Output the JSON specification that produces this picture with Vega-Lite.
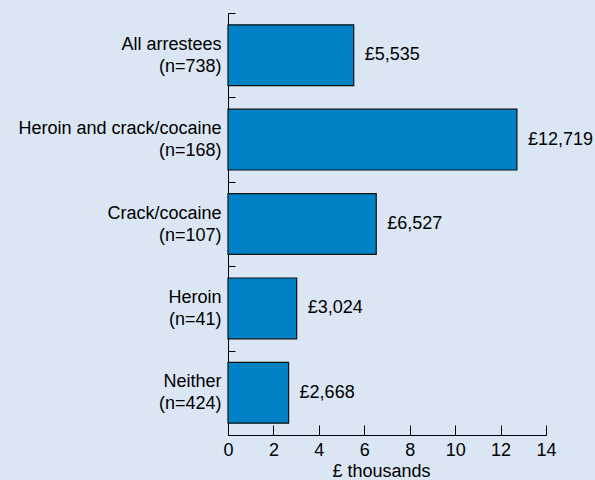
{
  "$schema": "https://vega.github.io/schema/vega-lite/v6.json",
  "autosize": "none",
  "padding": {"left": 228, "top": 13, "right": 49, "bottom": 45},
  "width": 318,
  "height": 422,
  "background": "#dbe6f4",
  "data": {
    "values": [
      {"group": "All arrestees|(n=738)", "amount": 5.535, "label": "£5,535"},
      {"group": "Heroin and crack/cocaine|(n=168)", "amount": 12.719, "label": "£12,719"},
      {"group": "Crack/cocaine|(n=107)", "amount": 6.527, "label": "£6,527"},
      {"group": "Heroin|(n=41)", "amount": 3.024, "label": "£3,024"},
      {"group": "Neither|(n=424)", "amount": 2.668, "label": "£2,668"}
    ]
  },
  "encoding": {
    "y": {
      "field": "group",
      "type": "nominal",
      "sort": null,
      "scale": {"paddingInner": 0, "paddingOuter": 0},
      "axis": {
        "title": null,
        "domainColor": "#000000",
        "domainWidth": 1,
        "tickColor": "#000000",
        "tickSize": -7,
        "tickBand": "extent",
        "labelPadding": 14,
        "labelLimit": 0,
        "labelOffset": -11,
        "labelExpr": "split(datum.label, '|')",
        "labelFont": "Liberation Sans",
        "labelFontSize": 18,
        "labelColor": "#000000",
        "labelLineHeight": 22,
        "labelAlign": "right",
        "labelBaseline": "middle"
      }
    },
    "x": {
      "field": "amount",
      "type": "quantitative",
      "scale": {"domain": [0, 14], "nice": false},
      "axis": {
        "title": "£ thousands",
        "values": [0, 2, 4, 6, 8, 10, 12, 14],
        "grid": false,
        "labelFlush": false,
        "domainColor": "#000000",
        "tickColor": "#000000",
        "tickSize": -10,
        "labelPadding": 16,
        "labelFont": "Liberation Sans",
        "labelFontSize": 18,
        "labelColor": "#000000",
        "titleFont": "Liberation Sans",
        "titleFontSize": 18,
        "titleFontWeight": "normal",
        "titleColor": "#000000",
        "titleX": 153,
        "titlePadding": 3
      }
    }
  },
  "layer": [
    {
      "mark": {"type": "bar", "color": "#0083c6", "stroke": "#111111", "strokeWidth": 1.2, "height": {"band": 0.72}}
    },
    {
      "mark": {"type": "text", "align": "left", "baseline": "middle", "dx": 11, "font": "Liberation Sans", "fontSize": 18, "color": "#000000"},
      "encoding": {"text": {"field": "label"}}
    }
  ],
  "config": {"view": {"stroke": null}}
}
